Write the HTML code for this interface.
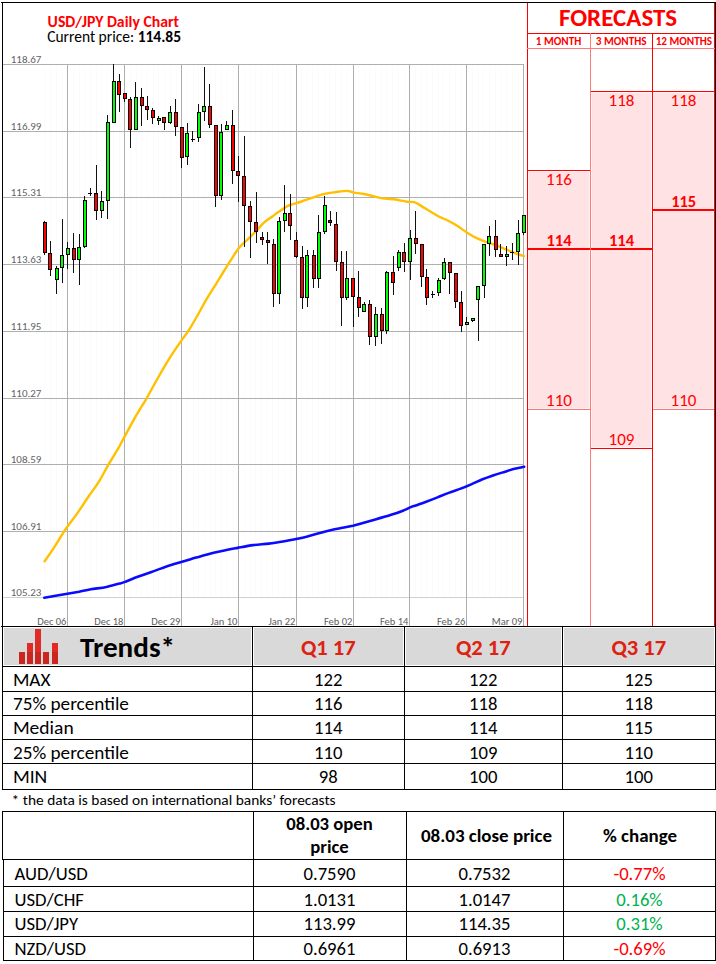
<!DOCTYPE html>
<html><head><meta charset="utf-8"><title>USD/JPY Daily Chart</title>
<style>
html,body{margin:0;padding:0;background:#fff;}
body{width:716px;height:964px;overflow:hidden;position:relative;font-family:Carlito, 'Liberation Sans', sans-serif;}
svg{position:absolute;left:0;top:0;display:block;}
</style></head><body>
<svg width="716" height="964" viewBox="0 0 716 964">
<rect x="0" y="0" width="716" height="964" fill="#fff"></rect>
<g shape-rendering="crispEdges">
<rect x="44" y="66" width="1" height="531" fill="#fbfbfb"></rect>
<rect x="50" y="66" width="1" height="531" fill="#fbfbfb"></rect>
<rect x="56" y="66" width="1" height="531" fill="#fbfbfb"></rect>
<rect x="62" y="66" width="1" height="531" fill="#fbfbfb"></rect>
<rect x="73" y="66" width="1" height="531" fill="#fbfbfb"></rect>
<rect x="79" y="66" width="1" height="531" fill="#fbfbfb"></rect>
<rect x="84" y="66" width="1" height="531" fill="#fbfbfb"></rect>
<rect x="90" y="66" width="1" height="531" fill="#fbfbfb"></rect>
<rect x="96" y="66" width="1" height="531" fill="#fbfbfb"></rect>
<rect x="101" y="66" width="1" height="531" fill="#fbfbfb"></rect>
<rect x="107" y="66" width="1" height="531" fill="#fbfbfb"></rect>
<rect x="113" y="66" width="1" height="531" fill="#fbfbfb"></rect>
<rect x="119" y="66" width="1" height="531" fill="#fbfbfb"></rect>
<rect x="130" y="66" width="1" height="531" fill="#fbfbfb"></rect>
<rect x="136" y="66" width="1" height="531" fill="#fbfbfb"></rect>
<rect x="141" y="66" width="1" height="531" fill="#fbfbfb"></rect>
<rect x="147" y="66" width="1" height="531" fill="#fbfbfb"></rect>
<rect x="153" y="66" width="1" height="531" fill="#fbfbfb"></rect>
<rect x="158" y="66" width="1" height="531" fill="#fbfbfb"></rect>
<rect x="164" y="66" width="1" height="531" fill="#fbfbfb"></rect>
<rect x="170" y="66" width="1" height="531" fill="#fbfbfb"></rect>
<rect x="176" y="66" width="1" height="531" fill="#fbfbfb"></rect>
<rect x="187" y="66" width="1" height="531" fill="#fbfbfb"></rect>
<rect x="193" y="66" width="1" height="531" fill="#fbfbfb"></rect>
<rect x="198" y="66" width="1" height="531" fill="#fbfbfb"></rect>
<rect x="204" y="66" width="1" height="531" fill="#fbfbfb"></rect>
<rect x="210" y="66" width="1" height="531" fill="#fbfbfb"></rect>
<rect x="215" y="66" width="1" height="531" fill="#fbfbfb"></rect>
<rect x="221" y="66" width="1" height="531" fill="#fbfbfb"></rect>
<rect x="227" y="66" width="1" height="531" fill="#fbfbfb"></rect>
<rect x="233" y="66" width="1" height="531" fill="#fbfbfb"></rect>
<rect x="244" y="66" width="1" height="531" fill="#fbfbfb"></rect>
<rect x="250" y="66" width="1" height="531" fill="#fbfbfb"></rect>
<rect x="255" y="66" width="1" height="531" fill="#fbfbfb"></rect>
<rect x="261" y="66" width="1" height="531" fill="#fbfbfb"></rect>
<rect x="267" y="66" width="1" height="531" fill="#fbfbfb"></rect>
<rect x="272" y="66" width="1" height="531" fill="#fbfbfb"></rect>
<rect x="278" y="66" width="1" height="531" fill="#fbfbfb"></rect>
<rect x="284" y="66" width="1" height="531" fill="#fbfbfb"></rect>
<rect x="290" y="66" width="1" height="531" fill="#fbfbfb"></rect>
<rect x="301" y="66" width="1" height="531" fill="#fbfbfb"></rect>
<rect x="307" y="66" width="1" height="531" fill="#fbfbfb"></rect>
<rect x="312" y="66" width="1" height="531" fill="#fbfbfb"></rect>
<rect x="318" y="66" width="1" height="531" fill="#fbfbfb"></rect>
<rect x="324" y="66" width="1" height="531" fill="#fbfbfb"></rect>
<rect x="329" y="66" width="1" height="531" fill="#fbfbfb"></rect>
<rect x="335" y="66" width="1" height="531" fill="#fbfbfb"></rect>
<rect x="341" y="66" width="1" height="531" fill="#fbfbfb"></rect>
<rect x="347" y="66" width="1" height="531" fill="#fbfbfb"></rect>
<rect x="358" y="66" width="1" height="531" fill="#fbfbfb"></rect>
<rect x="364" y="66" width="1" height="531" fill="#fbfbfb"></rect>
<rect x="369" y="66" width="1" height="531" fill="#fbfbfb"></rect>
<rect x="375" y="66" width="1" height="531" fill="#fbfbfb"></rect>
<rect x="381" y="66" width="1" height="531" fill="#fbfbfb"></rect>
<rect x="386" y="66" width="1" height="531" fill="#fbfbfb"></rect>
<rect x="392" y="66" width="1" height="531" fill="#fbfbfb"></rect>
<rect x="398" y="66" width="1" height="531" fill="#fbfbfb"></rect>
<rect x="404" y="66" width="1" height="531" fill="#fbfbfb"></rect>
<rect x="415" y="66" width="1" height="531" fill="#fbfbfb"></rect>
<rect x="421" y="66" width="1" height="531" fill="#fbfbfb"></rect>
<rect x="426" y="66" width="1" height="531" fill="#fbfbfb"></rect>
<rect x="432" y="66" width="1" height="531" fill="#fbfbfb"></rect>
<rect x="438" y="66" width="1" height="531" fill="#fbfbfb"></rect>
<rect x="443" y="66" width="1" height="531" fill="#fbfbfb"></rect>
<rect x="449" y="66" width="1" height="531" fill="#fbfbfb"></rect>
<rect x="455" y="66" width="1" height="531" fill="#fbfbfb"></rect>
<rect x="461" y="66" width="1" height="531" fill="#fbfbfb"></rect>
<rect x="472" y="66" width="1" height="531" fill="#fbfbfb"></rect>
<rect x="478" y="66" width="1" height="531" fill="#fbfbfb"></rect>
<rect x="483" y="66" width="1" height="531" fill="#fbfbfb"></rect>
<rect x="489" y="66" width="1" height="531" fill="#fbfbfb"></rect>
<rect x="495" y="66" width="1" height="531" fill="#fbfbfb"></rect>
<rect x="500" y="66" width="1" height="531" fill="#fbfbfb"></rect>
<rect x="506" y="66" width="1" height="531" fill="#fbfbfb"></rect>
<rect x="512" y="66" width="1" height="531" fill="#fbfbfb"></rect>
<rect x="518" y="66" width="1" height="531" fill="#fbfbfb"></rect>
<rect x="3" y="64" width="521" height="1" fill="#afafaf"></rect>
<rect x="3" y="131" width="521" height="1" fill="#afafaf"></rect>
<rect x="3" y="197" width="521" height="1" fill="#afafaf"></rect>
<rect x="3" y="264" width="521" height="1" fill="#afafaf"></rect>
<rect x="3" y="331" width="521" height="1" fill="#afafaf"></rect>
<rect x="3" y="398" width="521" height="1" fill="#afafaf"></rect>
<rect x="3" y="464" width="521" height="1" fill="#afafaf"></rect>
<rect x="3" y="531" width="521" height="1" fill="#afafaf"></rect>
<rect x="3" y="597" width="521" height="1" fill="#d0d0d0"></rect>
<rect x="67" y="64" width="1" height="562" fill="#aeaeae"></rect>
<rect x="124" y="64" width="1" height="562" fill="#aeaeae"></rect>
<rect x="181" y="64" width="1" height="562" fill="#aeaeae"></rect>
<rect x="238" y="64" width="1" height="562" fill="#aeaeae"></rect>
<rect x="296" y="64" width="1" height="562" fill="#aeaeae"></rect>
<rect x="353" y="64" width="1" height="562" fill="#aeaeae"></rect>
<rect x="409" y="64" width="1" height="562" fill="#aeaeae"></rect>
<rect x="466" y="64" width="1" height="562" fill="#aeaeae"></rect>
<rect x="523" y="64" width="1" height="562" fill="#aeaeae"></rect>
</g>
<g font-family="Carlito, 'Liberation Sans', sans-serif" font-size="11" fill="#636363" text-anchor="end">
<text x="41.4" y="62.8" textLength="30.66" lengthAdjust="spacingAndGlyphs">118.67</text>
<text x="41.4" y="129.8" textLength="30.66" lengthAdjust="spacingAndGlyphs">116.99</text>
<text x="41.4" y="195.8" textLength="30.66" lengthAdjust="spacingAndGlyphs">115.31</text>
<text x="41.4" y="262.8" textLength="30.66" lengthAdjust="spacingAndGlyphs">113.63</text>
<text x="41.4" y="329.8" textLength="30.66" lengthAdjust="spacingAndGlyphs">111.95</text>
<text x="41.4" y="396.8" textLength="30.66" lengthAdjust="spacingAndGlyphs">110.27</text>
<text x="41.4" y="462.8" textLength="30.66" lengthAdjust="spacingAndGlyphs">108.59</text>
<text x="41.4" y="529.8" textLength="30.66" lengthAdjust="spacingAndGlyphs">106.91</text>
<text x="41.4" y="595.8" textLength="30.66" lengthAdjust="spacingAndGlyphs">105.23</text>
</g>
<g font-family="Carlito, 'Liberation Sans', sans-serif" font-size="10.5" fill="#5e5e5e" text-anchor="end">
<text x="66.4" y="624.8" textLength="29.16" lengthAdjust="spacingAndGlyphs">Dec 06</text>
<text x="123.4" y="624.8" textLength="29.16" lengthAdjust="spacingAndGlyphs">Dec 18</text>
<text x="180.4" y="624.8" textLength="29.16" lengthAdjust="spacingAndGlyphs">Dec 29</text>
<text x="237.4" y="624.8" textLength="26.92" lengthAdjust="spacingAndGlyphs">Jan 10</text>
<text x="295.4" y="624.8" textLength="26.92" lengthAdjust="spacingAndGlyphs">Jan 22</text>
<text x="352.4" y="624.8" textLength="28.44" lengthAdjust="spacingAndGlyphs">Feb 02</text>
<text x="408.4" y="624.8" textLength="28.44" lengthAdjust="spacingAndGlyphs">Feb 14</text>
<text x="465.4" y="624.8" textLength="28.44" lengthAdjust="spacingAndGlyphs">Feb 26</text>
<text x="522.4" y="624.8" textLength="30.69" lengthAdjust="spacingAndGlyphs">Mar 09</text>
</g>
<path d="M44.6,561.2 C46.2,558.9 50.5,553.0 54.0,547.6 C57.5,542.2 61.9,534.5 65.9,528.7 C69.9,522.9 74.0,518.1 77.8,512.6 C81.6,507.1 85.5,500.9 89.0,495.8 C92.5,490.7 95.5,487.1 98.8,481.8 C102.1,476.6 105.3,469.9 108.6,464.3 C111.9,458.7 116.0,452.3 118.4,448.2 C120.8,444.1 120.2,444.6 123.0,439.5 C125.8,434.4 131.1,424.4 135.0,417.6 C138.9,410.8 142.5,405.3 146.3,398.8 C150.1,392.3 153.7,385.3 157.6,378.5 C161.5,371.7 165.6,364.6 169.6,358.2 C173.6,351.8 178.4,344.9 181.7,340.1 C185.0,335.3 186.2,334.4 189.2,329.6 C192.2,324.8 196.8,316.6 199.7,311.5 C202.6,306.4 204.1,303.2 206.7,298.9 C209.3,294.6 212.2,290.1 215.1,285.5 C218.0,280.9 221.2,275.5 224.0,271.0 C226.8,266.5 229.4,262.4 231.8,258.7 C234.2,255.0 236.4,251.3 238.5,248.6 C240.6,245.9 242.0,244.6 244.1,242.6 C246.2,240.6 248.6,238.5 250.8,236.3 C253.0,234.1 255.3,231.9 257.5,229.6 C259.7,227.3 261.8,224.5 264.2,222.4 C266.6,220.3 269.6,218.6 272.0,216.8 C274.4,215.0 276.5,213.3 278.7,211.8 C280.9,210.3 283.1,208.7 285.0,207.6 C286.9,206.5 287.2,206.0 290.0,205.0 C292.8,204.0 297.8,202.8 301.7,201.5 C305.6,200.2 309.7,198.6 313.5,197.3 C317.3,196.0 320.8,194.8 324.4,193.9 C328.0,193.1 331.4,192.7 335.2,192.2 C339.0,191.7 343.9,190.8 347.0,190.9 C350.1,191.0 350.6,192.1 353.7,192.6 C356.8,193.1 360.8,193.3 365.4,194.2 C370.0,195.1 376.6,197.2 381.3,198.1 C386.1,198.9 390.8,198.9 393.9,199.3 C397.0,199.7 397.8,200.0 400.0,200.4 C402.2,200.8 404.8,201.5 407.2,201.8 C409.6,202.1 411.9,201.5 414.3,202.2 C416.7,202.9 418.8,204.5 421.5,206.1 C424.2,207.7 427.4,209.7 430.4,211.5 C433.4,213.3 436.3,215.3 439.3,216.8 C442.3,218.3 445.3,219.2 448.3,220.7 C451.3,222.2 454.2,223.9 457.2,225.8 C460.2,227.7 463.1,230.1 466.1,232.0 C469.1,233.9 471.8,235.8 475.1,237.4 C478.4,239.0 482.2,240.5 485.8,241.8 C489.4,243.1 492.9,244.1 496.5,245.4 C500.1,246.8 504.0,248.6 507.3,249.9 C510.6,251.2 513.4,252.5 516.2,253.5 C519.0,254.5 522.6,255.7 523.9,256.1" fill="none" stroke="#ffc000" stroke-width="2.4" stroke-linecap="round" stroke-linejoin="round"></path>
<path d="M44.3,597.7 C46.2,597.4 51.8,596.4 55.6,595.7 C59.5,595.1 63.5,594.4 67.4,593.8 C71.3,593.1 75.2,592.5 79.1,591.8 C83.0,591.0 86.2,590.1 90.8,589.3 C95.4,588.5 101.6,587.9 106.5,586.9 C111.4,585.9 117.0,584.3 120.2,583.4 C123.5,582.5 123.1,582.6 126.0,581.5 C128.9,580.4 133.6,578.4 137.8,576.8 C142.1,575.2 146.9,573.5 151.5,571.9 C156.1,570.3 161.2,568.4 165.1,567.0 C169.0,565.6 170.8,565.1 175.0,563.8 C179.2,562.5 185.4,560.7 190.6,559.2 C195.8,557.7 201.1,556.1 206.3,554.7 C211.5,553.3 216.7,552.1 221.9,551.0 C227.1,549.9 232.4,548.9 237.6,547.9 C242.8,546.9 248.0,545.8 253.2,545.1 C258.4,544.4 263.7,544.2 268.9,543.6 C274.1,543.0 279.3,542.1 284.5,541.2 C289.7,540.3 295.9,539.2 300.1,538.3 C304.4,537.4 306.6,536.7 310.0,535.8 C313.4,534.9 317.2,533.7 320.8,532.7 C324.4,531.7 327.9,530.8 331.5,530.0 C335.1,529.2 338.7,528.5 342.3,527.8 C345.9,527.1 349.4,526.6 353.0,525.8 C356.6,524.9 360.2,523.7 363.8,522.7 C367.4,521.7 370.9,520.7 374.5,519.7 C378.1,518.7 382.0,517.6 385.3,516.6 C388.6,515.6 391.4,514.8 394.5,513.8 C397.6,512.8 400.9,511.5 403.7,510.4 C406.5,509.2 409.5,507.7 411.4,506.9 C413.3,506.1 412.5,506.6 415.0,505.8 C417.5,505.0 422.4,503.2 426.2,501.8 C429.9,500.4 433.8,498.9 437.5,497.4 C441.2,495.9 444.9,494.3 448.7,492.9 C452.4,491.5 456.2,490.3 460.0,488.9 C463.8,487.5 467.4,486.0 471.2,484.4 C474.9,482.8 478.8,480.8 482.5,479.3 C486.2,477.8 489.9,476.6 493.7,475.3 C497.4,474.0 501.5,472.8 505.0,471.7 C508.5,470.6 511.4,469.6 514.6,468.8 C517.8,468.0 522.6,467.1 524.2,466.7" fill="none" stroke="#0a0aff" stroke-width="2.6" stroke-linecap="round" stroke-linejoin="round"></path>
<rect x="44" y="221" width="1" height="34" fill="#111"></rect>
<rect x="50" y="241" width="1" height="35" fill="#111"></rect>
<rect x="56" y="266" width="1" height="28" fill="#111"></rect>
<rect x="62" y="219" width="1" height="64" fill="#111"></rect>
<rect x="67" y="242" width="1" height="27" fill="#111"></rect>
<rect x="73" y="233" width="1" height="40" fill="#111"></rect>
<rect x="79" y="234" width="1" height="51" fill="#111"></rect>
<rect x="84" y="196" width="1" height="52" fill="#111"></rect>
<rect x="90" y="188" width="1" height="8" fill="#111"></rect>
<rect x="96" y="165" width="1" height="55" fill="#111"></rect>
<rect x="101" y="191" width="1" height="27" fill="#111"></rect>
<rect x="107" y="115" width="1" height="104" fill="#111"></rect>
<rect x="113" y="64" width="1" height="59" fill="#111"></rect>
<rect x="119" y="74" width="1" height="38" fill="#111"></rect>
<rect x="124" y="93" width="1" height="9" fill="#111"></rect>
<rect x="130" y="97" width="1" height="51" fill="#111"></rect>
<rect x="135" y="82" width="1" height="48" fill="#111"></rect>
<rect x="141" y="88" width="1" height="38" fill="#111"></rect>
<rect x="147" y="96" width="1" height="24" fill="#111"></rect>
<rect x="152" y="108" width="1" height="16" fill="#111"></rect>
<rect x="158" y="116" width="1" height="9" fill="#111"></rect>
<rect x="164" y="117" width="1" height="13" fill="#111"></rect>
<rect x="170" y="106" width="1" height="18" fill="#111"></rect>
<rect x="175" y="99" width="1" height="37" fill="#111"></rect>
<rect x="181" y="127" width="1" height="41" fill="#111"></rect>
<rect x="187" y="123" width="1" height="42" fill="#111"></rect>
<rect x="192" y="131" width="1" height="11" fill="#111"></rect>
<rect x="198" y="104" width="1" height="38" fill="#111"></rect>
<rect x="204" y="67" width="1" height="54" fill="#111"></rect>
<rect x="209" y="84" width="1" height="44" fill="#111"></rect>
<rect x="215" y="125" width="1" height="82" fill="#111"></rect>
<rect x="221" y="124" width="1" height="76" fill="#111"></rect>
<rect x="226" y="121" width="1" height="9" fill="#111"></rect>
<rect x="232" y="110" width="1" height="74" fill="#111"></rect>
<rect x="238" y="156" width="1" height="46" fill="#111"></rect>
<rect x="244" y="136" width="1" height="111" fill="#111"></rect>
<rect x="250" y="201" width="1" height="57" fill="#111"></rect>
<rect x="256" y="192" width="1" height="51" fill="#111"></rect>
<rect x="262" y="232" width="1" height="13" fill="#111"></rect>
<rect x="267" y="232" width="1" height="32" fill="#111"></rect>
<rect x="273" y="239" width="1" height="68" fill="#111"></rect>
<rect x="279" y="217" width="1" height="87" fill="#111"></rect>
<rect x="284" y="185" width="1" height="47" fill="#111"></rect>
<rect x="290" y="194" width="1" height="46" fill="#111"></rect>
<rect x="296" y="232" width="1" height="26" fill="#111"></rect>
<rect x="302" y="246" width="1" height="63" fill="#111"></rect>
<rect x="307" y="250" width="1" height="57" fill="#111"></rect>
<rect x="313" y="250" width="1" height="38" fill="#111"></rect>
<rect x="318" y="215" width="1" height="73" fill="#111"></rect>
<rect x="324" y="196" width="1" height="38" fill="#111"></rect>
<rect x="330" y="211" width="1" height="15" fill="#111"></rect>
<rect x="336" y="212" width="1" height="59" fill="#111"></rect>
<rect x="341" y="251" width="1" height="75" fill="#111"></rect>
<rect x="346" y="251" width="1" height="49" fill="#111"></rect>
<rect x="353" y="278" width="1" height="49" fill="#111"></rect>
<rect x="358" y="271" width="1" height="46" fill="#111"></rect>
<rect x="364" y="302" width="1" height="10" fill="#111"></rect>
<rect x="369" y="300" width="1" height="45" fill="#111"></rect>
<rect x="375" y="307" width="1" height="39" fill="#111"></rect>
<rect x="381" y="308" width="1" height="36" fill="#111"></rect>
<rect x="386" y="271" width="1" height="63" fill="#111"></rect>
<rect x="393" y="256" width="1" height="39" fill="#111"></rect>
<rect x="398" y="250" width="1" height="21" fill="#111"></rect>
<rect x="404" y="243" width="1" height="29" fill="#111"></rect>
<rect x="410" y="230" width="1" height="50" fill="#111"></rect>
<rect x="415" y="211" width="1" height="43" fill="#111"></rect>
<rect x="421" y="244" width="1" height="43" fill="#111"></rect>
<rect x="426" y="269" width="1" height="36" fill="#111"></rect>
<rect x="432" y="291" width="1" height="7" fill="#111"></rect>
<rect x="438" y="278" width="1" height="18" fill="#111"></rect>
<rect x="444" y="258" width="1" height="22" fill="#111"></rect>
<rect x="449" y="262" width="1" height="32" fill="#111"></rect>
<rect x="455" y="273" width="1" height="35" fill="#111"></rect>
<rect x="461" y="291" width="1" height="41" fill="#111"></rect>
<rect x="466" y="317" width="1" height="7" fill="#111"></rect>
<rect x="472" y="318" width="1" height="4" fill="#111"></rect>
<rect x="478" y="286" width="1" height="55" fill="#111"></rect>
<rect x="484" y="244" width="1" height="54" fill="#111"></rect>
<rect x="489" y="226" width="1" height="30" fill="#111"></rect>
<rect x="495" y="220" width="1" height="37" fill="#111"></rect>
<rect x="500" y="244" width="1" height="13" fill="#111"></rect>
<rect x="506" y="246" width="1" height="20" fill="#111"></rect>
<rect x="512" y="243" width="1" height="17" fill="#111"></rect>
<rect x="518" y="220" width="1" height="45" fill="#111"></rect>
<rect x="523" y="215" width="1" height="20" fill="#111"></rect>
<g shape-rendering="crispEdges">
<rect x="43" y="222" width="4" height="31" fill="#000"></rect>
<rect x="44" y="223" width="2" height="29" fill="#ff0000"></rect>
<rect x="48" y="253" width="4" height="17" fill="#000"></rect>
<rect x="49" y="254" width="2" height="15" fill="#ff0000"></rect>
<rect x="55" y="268" width="4" height="12" fill="#000"></rect>
<rect x="56" y="269" width="2" height="10" fill="#00ff00"></rect>
<rect x="60" y="255" width="4" height="13" fill="#000"></rect>
<rect x="61" y="256" width="2" height="11" fill="#00ff00"></rect>
<rect x="66" y="248" width="4" height="7" fill="#000"></rect>
<rect x="67" y="249" width="2" height="5" fill="#00ff00"></rect>
<rect x="72" y="248" width="4" height="12" fill="#000"></rect>
<rect x="73" y="249" width="2" height="10" fill="#ff0000"></rect>
<rect x="77" y="247" width="4" height="13" fill="#000"></rect>
<rect x="78" y="248" width="2" height="11" fill="#00ff00"></rect>
<rect x="83" y="200" width="4" height="47" fill="#000"></rect>
<rect x="84" y="201" width="2" height="45" fill="#00ff00"></rect>
<rect x="88" y="193" width="4" height="1" fill="#000"></rect>
<rect x="94" y="193" width="4" height="18" fill="#000"></rect>
<rect x="95" y="194" width="2" height="16" fill="#ff0000"></rect>
<rect x="100" y="201" width="4" height="10" fill="#000"></rect>
<rect x="101" y="202" width="2" height="8" fill="#00ff00"></rect>
<rect x="106" y="122" width="4" height="79" fill="#000"></rect>
<rect x="107" y="123" width="2" height="77" fill="#00ff00"></rect>
<rect x="112" y="81" width="4" height="42" fill="#000"></rect>
<rect x="113" y="82" width="2" height="40" fill="#00ff00"></rect>
<rect x="117" y="81" width="4" height="14" fill="#000"></rect>
<rect x="118" y="82" width="2" height="12" fill="#ff0000"></rect>
<rect x="123" y="93" width="4" height="6" fill="#000"></rect>
<rect x="124" y="94" width="2" height="4" fill="#ff0000"></rect>
<rect x="128" y="99" width="4" height="31" fill="#000"></rect>
<rect x="129" y="100" width="2" height="29" fill="#ff0000"></rect>
<rect x="134" y="97" width="4" height="33" fill="#000"></rect>
<rect x="135" y="98" width="2" height="31" fill="#00ff00"></rect>
<rect x="140" y="97" width="4" height="9" fill="#000"></rect>
<rect x="141" y="98" width="2" height="7" fill="#ff0000"></rect>
<rect x="145" y="106" width="4" height="4" fill="#000"></rect>
<rect x="146" y="107" width="2" height="2" fill="#ff0000"></rect>
<rect x="151" y="110" width="4" height="8" fill="#000"></rect>
<rect x="152" y="111" width="2" height="6" fill="#ff0000"></rect>
<rect x="157" y="118" width="4" height="3" fill="#000"></rect>
<rect x="158" y="119" width="2" height="1" fill="#00ff00"></rect>
<rect x="162" y="117" width="4" height="6" fill="#000"></rect>
<rect x="163" y="118" width="2" height="4" fill="#ff0000"></rect>
<rect x="168" y="112" width="4" height="11" fill="#000"></rect>
<rect x="169" y="113" width="2" height="9" fill="#00ff00"></rect>
<rect x="174" y="112" width="4" height="15" fill="#000"></rect>
<rect x="175" y="113" width="2" height="13" fill="#ff0000"></rect>
<rect x="180" y="127" width="4" height="31" fill="#000"></rect>
<rect x="181" y="128" width="2" height="29" fill="#ff0000"></rect>
<rect x="185" y="133" width="4" height="24" fill="#000"></rect>
<rect x="186" y="134" width="2" height="22" fill="#00ff00"></rect>
<rect x="191" y="139" width="4" height="1" fill="#000"></rect>
<rect x="197" y="112" width="4" height="26" fill="#000"></rect>
<rect x="198" y="113" width="2" height="24" fill="#00ff00"></rect>
<rect x="202" y="106" width="4" height="6" fill="#000"></rect>
<rect x="203" y="107" width="2" height="4" fill="#00ff00"></rect>
<rect x="208" y="106" width="4" height="19" fill="#000"></rect>
<rect x="209" y="107" width="2" height="17" fill="#ff0000"></rect>
<rect x="214" y="125" width="4" height="71" fill="#000"></rect>
<rect x="215" y="126" width="2" height="69" fill="#ff0000"></rect>
<rect x="219" y="132" width="4" height="64" fill="#000"></rect>
<rect x="220" y="133" width="2" height="62" fill="#00ff00"></rect>
<rect x="225" y="125" width="4" height="5" fill="#000"></rect>
<rect x="226" y="126" width="2" height="3" fill="#00ff00"></rect>
<rect x="231" y="125" width="4" height="46" fill="#000"></rect>
<rect x="232" y="126" width="2" height="44" fill="#ff0000"></rect>
<rect x="236" y="171" width="4" height="5" fill="#000"></rect>
<rect x="237" y="172" width="2" height="3" fill="#ff0000"></rect>
<rect x="242" y="176" width="4" height="30" fill="#000"></rect>
<rect x="243" y="177" width="2" height="28" fill="#ff0000"></rect>
<rect x="248" y="206" width="4" height="16" fill="#000"></rect>
<rect x="249" y="207" width="2" height="14" fill="#ff0000"></rect>
<rect x="254" y="222" width="4" height="10" fill="#000"></rect>
<rect x="255" y="223" width="2" height="8" fill="#ff0000"></rect>
<rect x="260" y="237" width="4" height="3" fill="#000"></rect>
<rect x="261" y="238" width="2" height="1" fill="#ff0000"></rect>
<rect x="266" y="240" width="4" height="3" fill="#000"></rect>
<rect x="267" y="241" width="2" height="1" fill="#ff0000"></rect>
<rect x="272" y="244" width="4" height="50" fill="#000"></rect>
<rect x="273" y="245" width="2" height="48" fill="#ff0000"></rect>
<rect x="277" y="221" width="4" height="73" fill="#000"></rect>
<rect x="278" y="222" width="2" height="71" fill="#00ff00"></rect>
<rect x="283" y="213" width="4" height="8" fill="#000"></rect>
<rect x="284" y="214" width="2" height="6" fill="#00ff00"></rect>
<rect x="288" y="213" width="4" height="13" fill="#000"></rect>
<rect x="289" y="214" width="2" height="11" fill="#ff0000"></rect>
<rect x="294" y="240" width="4" height="17" fill="#000"></rect>
<rect x="295" y="241" width="2" height="15" fill="#ff0000"></rect>
<rect x="300" y="257" width="4" height="41" fill="#000"></rect>
<rect x="301" y="258" width="2" height="39" fill="#ff0000"></rect>
<rect x="305" y="255" width="4" height="43" fill="#000"></rect>
<rect x="306" y="256" width="2" height="41" fill="#00ff00"></rect>
<rect x="312" y="255" width="4" height="24" fill="#000"></rect>
<rect x="313" y="256" width="2" height="22" fill="#ff0000"></rect>
<rect x="317" y="232" width="4" height="47" fill="#000"></rect>
<rect x="318" y="233" width="2" height="45" fill="#00ff00"></rect>
<rect x="323" y="205" width="4" height="27" fill="#000"></rect>
<rect x="324" y="206" width="2" height="25" fill="#00ff00"></rect>
<rect x="328" y="220" width="4" height="3" fill="#000"></rect>
<rect x="329" y="221" width="2" height="1" fill="#ff0000"></rect>
<rect x="334" y="224" width="4" height="38" fill="#000"></rect>
<rect x="335" y="225" width="2" height="36" fill="#ff0000"></rect>
<rect x="340" y="262" width="4" height="36" fill="#000"></rect>
<rect x="341" y="263" width="2" height="34" fill="#ff0000"></rect>
<rect x="345" y="278" width="4" height="20" fill="#000"></rect>
<rect x="346" y="279" width="2" height="18" fill="#00ff00"></rect>
<rect x="351" y="278" width="4" height="19" fill="#000"></rect>
<rect x="352" y="279" width="2" height="17" fill="#ff0000"></rect>
<rect x="357" y="297" width="4" height="11" fill="#000"></rect>
<rect x="358" y="298" width="2" height="9" fill="#ff0000"></rect>
<rect x="362" y="304" width="4" height="8" fill="#000"></rect>
<rect x="363" y="305" width="2" height="6" fill="#00ff00"></rect>
<rect x="368" y="304" width="4" height="33" fill="#000"></rect>
<rect x="369" y="305" width="2" height="31" fill="#ff0000"></rect>
<rect x="374" y="314" width="4" height="23" fill="#000"></rect>
<rect x="375" y="315" width="2" height="21" fill="#00ff00"></rect>
<rect x="380" y="314" width="4" height="17" fill="#000"></rect>
<rect x="381" y="315" width="2" height="15" fill="#ff0000"></rect>
<rect x="385" y="272" width="4" height="59" fill="#000"></rect>
<rect x="386" y="273" width="2" height="57" fill="#00ff00"></rect>
<rect x="391" y="272" width="4" height="11" fill="#000"></rect>
<rect x="392" y="273" width="2" height="9" fill="#ff0000"></rect>
<rect x="397" y="252" width="4" height="16" fill="#000"></rect>
<rect x="398" y="253" width="2" height="14" fill="#00ff00"></rect>
<rect x="402" y="252" width="4" height="10" fill="#000"></rect>
<rect x="403" y="253" width="2" height="8" fill="#ff0000"></rect>
<rect x="408" y="238" width="4" height="24" fill="#000"></rect>
<rect x="409" y="239" width="2" height="22" fill="#00ff00"></rect>
<rect x="414" y="238" width="4" height="6" fill="#000"></rect>
<rect x="415" y="239" width="2" height="4" fill="#ff0000"></rect>
<rect x="420" y="244" width="4" height="33" fill="#000"></rect>
<rect x="421" y="245" width="2" height="31" fill="#ff0000"></rect>
<rect x="425" y="277" width="4" height="21" fill="#000"></rect>
<rect x="426" y="278" width="2" height="19" fill="#ff0000"></rect>
<rect x="431" y="294" width="4" height="1" fill="#000"></rect>
<rect x="437" y="280" width="4" height="13" fill="#000"></rect>
<rect x="438" y="281" width="2" height="11" fill="#00ff00"></rect>
<rect x="442" y="262" width="4" height="17" fill="#000"></rect>
<rect x="443" y="263" width="2" height="15" fill="#00ff00"></rect>
<rect x="448" y="262" width="4" height="11" fill="#000"></rect>
<rect x="449" y="263" width="2" height="9" fill="#ff0000"></rect>
<rect x="454" y="273" width="4" height="29" fill="#000"></rect>
<rect x="455" y="274" width="2" height="27" fill="#ff0000"></rect>
<rect x="459" y="302" width="4" height="24" fill="#000"></rect>
<rect x="460" y="303" width="2" height="22" fill="#ff0000"></rect>
<rect x="465" y="322" width="4" height="3" fill="#000"></rect>
<rect x="466" y="323" width="2" height="1" fill="#00ff00"></rect>
<rect x="471" y="318" width="4" height="3" fill="#000"></rect>
<rect x="472" y="319" width="2" height="1" fill="#00ff00"></rect>
<rect x="476" y="286" width="4" height="14" fill="#000"></rect>
<rect x="477" y="287" width="2" height="12" fill="#00ff00"></rect>
<rect x="482" y="244" width="4" height="42" fill="#000"></rect>
<rect x="483" y="245" width="2" height="40" fill="#00ff00"></rect>
<rect x="487" y="236" width="4" height="8" fill="#000"></rect>
<rect x="488" y="237" width="2" height="6" fill="#00ff00"></rect>
<rect x="494" y="236" width="4" height="14" fill="#000"></rect>
<rect x="495" y="237" width="2" height="12" fill="#ff0000"></rect>
<rect x="499" y="254" width="4" height="3" fill="#000"></rect>
<rect x="500" y="255" width="2" height="1" fill="#ff0000"></rect>
<rect x="505" y="254" width="4" height="3" fill="#000"></rect>
<rect x="506" y="255" width="2" height="1" fill="#00ff00"></rect>
<rect x="510" y="252" width="4" height="1" fill="#000"></rect>
<rect x="516" y="233" width="4" height="19" fill="#000"></rect>
<rect x="517" y="234" width="2" height="17" fill="#00ff00"></rect>
<rect x="522" y="215" width="4" height="18" fill="#000"></rect>
<rect x="523" y="216" width="2" height="16" fill="#00ff00"></rect>
</g>
<g shape-rendering="crispEdges">
<rect x="528" y="171" width="62" height="238" fill="#fff3f3"></rect>
<rect x="529" y="172" width="60" height="236" fill="#ffe2e3"></rect>
<rect x="527" y="170" width="63" height="1" fill="#ff0000"></rect>
<rect x="527" y="409" width="63" height="1" fill="#ff7575"></rect>
<rect x="591" y="92" width="61" height="356" fill="#fff3f3"></rect>
<rect x="592" y="93" width="59" height="354" fill="#ffe2e3"></rect>
<rect x="590" y="91" width="62" height="1" fill="#ff0000"></rect>
<rect x="590" y="448" width="62" height="1" fill="#ff0000"></rect>
<rect x="653" y="92" width="61" height="317" fill="#fff3f3"></rect>
<rect x="654" y="93" width="59" height="315" fill="#ffe2e3"></rect>
<rect x="652" y="91" width="62" height="1" fill="#ff0000"></rect>
<rect x="652" y="409" width="62" height="1" fill="#ff7575"></rect>
<rect x="527" y="2" width="1" height="624" fill="#ff0000"></rect>
<rect x="714" y="2" width="1" height="624" fill="#ff0000"></rect>
<rect x="527" y="33" width="188" height="1" fill="#ff0000"></rect>
<rect x="527" y="48" width="188" height="1" fill="#ff7a7a"></rect>
<rect x="590" y="33" width="1" height="593" fill="#ff7a7a"></rect>
<rect x="652" y="33" width="1" height="593" fill="#ff0000"></rect>
<rect x="528" y="248" width="62" height="2" fill="#ff0000"></rect>
<rect x="591" y="248" width="61" height="2" fill="#ff0000"></rect>
<rect x="653" y="209" width="61" height="2" fill="#ff0000"></rect>
</g>
<text x="618" y="26.2" font-family="Carlito, 'Liberation Sans', sans-serif" font-size="25" font-weight="bold" fill="#ff0000" text-anchor="middle" textLength="118.14" lengthAdjust="spacingAndGlyphs">FORECASTS</text>
<g font-family="Carlito, 'Liberation Sans', sans-serif" font-size="11.2" font-weight="bold" fill="#ff0000" text-anchor="middle">
<text x="558.5" y="44.8" textLength="45.52" lengthAdjust="spacingAndGlyphs">1 MONTH</text><text x="621.2" y="44.8" textLength="50.81" lengthAdjust="spacingAndGlyphs">3 MONTHS</text><text x="683.9" y="44.8" textLength="56.47" lengthAdjust="spacingAndGlyphs">12 MONTHS</text>
</g>
<g font-family="Carlito, 'Liberation Sans', sans-serif" font-size="17" fill="#ff0000" text-anchor="middle">
<text x="559" y="184.9" textLength="25.86" lengthAdjust="spacingAndGlyphs">116</text>
<text x="621.5" y="106" textLength="25.86" lengthAdjust="spacingAndGlyphs">118</text>
<text x="683.5" y="106" textLength="25.86" lengthAdjust="spacingAndGlyphs">118</text>
<text x="559" y="406.4" textLength="25.86" lengthAdjust="spacingAndGlyphs">110</text>
<text x="621.5" y="445.4" textLength="25.86" lengthAdjust="spacingAndGlyphs">109</text>
<text x="683.5" y="406.4" textLength="25.86" lengthAdjust="spacingAndGlyphs">110</text>
</g>
<g font-family="Carlito, 'Liberation Sans', sans-serif" font-size="16.5" font-weight="bold" fill="#ff0000" text-anchor="middle">
<text x="559" y="246" textLength="25.09" lengthAdjust="spacingAndGlyphs">114</text>
<text x="621.5" y="246" textLength="25.09" lengthAdjust="spacingAndGlyphs">114</text>
<text x="683.7" y="207" textLength="25.09" lengthAdjust="spacingAndGlyphs">115</text>
</g>
<text x="47.6" y="26.5" font-family="Carlito, 'Liberation Sans', sans-serif" font-size="15" font-weight="bold" fill="#ff0000" textLength="131.5" lengthAdjust="spacingAndGlyphs">USD/JPY Daily Chart</text>
<text x="47.2" y="42.2" font-family="Carlito, 'Liberation Sans', sans-serif" font-size="15.5" fill="#000" textLength="133.88" lengthAdjust="spacingAndGlyphs">Current price: <tspan font-weight="bold">114.85</tspan></text>
<g shape-rendering="crispEdges">
<rect x="1" y="2" width="715" height="1" fill="#000"></rect>
<rect x="2" y="2" width="1" height="624" fill="#000"></rect>
<rect x="715" y="2" width="1" height="624" fill="#000"></rect>
</g>
<g shape-rendering="crispEdges">
<rect x="4" y="628" width="247" height="37" fill="#d9d9d9"></rect>
<rect x="254" y="628" width="149" height="37" fill="#d9d9d9"></rect>
<rect x="406" y="628" width="155" height="37" fill="#d9d9d9"></rect>
<rect x="564" y="628" width="150" height="37" fill="#d9d9d9"></rect>
<rect x="1" y="626" width="715" height="1" fill="#000"></rect>
<rect x="2" y="666" width="714" height="1" fill="#000"></rect>
<rect x="2" y="691" width="714" height="1" fill="#000"></rect>
<rect x="2" y="715" width="714" height="1" fill="#000"></rect>
<rect x="2" y="739" width="714" height="1" fill="#000"></rect>
<rect x="2" y="763" width="714" height="1" fill="#000"></rect>
<rect x="2" y="789" width="714" height="1" fill="#000"></rect>
<rect x="2" y="626" width="1" height="164" fill="#000"></rect>
<rect x="252" y="626" width="1" height="164" fill="#000"></rect>
<rect x="404" y="626" width="1" height="164" fill="#000"></rect>
<rect x="562" y="626" width="1" height="164" fill="#000"></rect>
<rect x="715" y="626" width="1" height="164" fill="#000"></rect>
<rect x="19" y="652" width="6" height="12" fill="#df2a25"></rect>
<rect x="19" y="652" width="6" height="12" fill="#c42420" opacity="0.75"></rect>
<rect x="27" y="643" width="6" height="21" fill="#df2a25"></rect>
<rect x="27" y="652" width="6" height="12" fill="#c42420" opacity="0.75"></rect>
<rect x="35" y="629" width="6" height="35" fill="#df2a25"></rect>
<rect x="35" y="652" width="6" height="12" fill="#c42420" opacity="0.75"></rect>
<rect x="43" y="652" width="6" height="12" fill="#df2a25"></rect>
<rect x="43" y="652" width="6" height="12" fill="#c42420" opacity="0.75"></rect>
<rect x="52" y="643" width="6" height="21" fill="#df2a25"></rect>
<rect x="52" y="652" width="6" height="12" fill="#c42420" opacity="0.75"></rect>
<rect x="2" y="811" width="714" height="1" fill="#000"></rect>
<rect x="2" y="859" width="714" height="1" fill="#000"></rect>
<rect x="3" y="886" width="713" height="1" fill="#000"></rect>
<rect x="3" y="911" width="713" height="1" fill="#000"></rect>
<rect x="3" y="936" width="713" height="1" fill="#000"></rect>
<rect x="3" y="960" width="713" height="1" fill="#000"></rect>
<rect x="2" y="811" width="1" height="49" fill="#000"></rect>
<rect x="3" y="859" width="1" height="102" fill="#000"></rect>
<rect x="253" y="811" width="1" height="150" fill="#000"></rect>
<rect x="406" y="811" width="1" height="150" fill="#000"></rect>
<rect x="563" y="811" width="1" height="150" fill="#000"></rect>
<rect x="715" y="811" width="1" height="150" fill="#000"></rect>
</g>
<text x="80" y="657.4" font-family="Carlito, 'Liberation Sans', sans-serif" font-size="28" font-weight="bold" fill="#000" textLength="95" lengthAdjust="spacingAndGlyphs">Trends*</text>
<g font-family="Carlito, 'Liberation Sans', sans-serif" font-size="22.5" font-weight="bold" fill="#dd2211" text-anchor="middle">
<text x="328.3" y="655.3" textLength="54.73" lengthAdjust="spacingAndGlyphs">Q1 17</text><text x="483.3" y="655.3" textLength="54.73" lengthAdjust="spacingAndGlyphs">Q2 17</text><text x="638.8" y="655.3" textLength="54.73" lengthAdjust="spacingAndGlyphs">Q3 17</text>
</g>
<g font-family="Carlito, 'Liberation Sans', sans-serif" font-size="18.67" fill="#000">
<text x="12.9" y="685.9" textLength="37.6" lengthAdjust="spacingAndGlyphs">MAX</text>
<text x="328.3" y="685.9" text-anchor="middle" textLength="28.38" lengthAdjust="spacingAndGlyphs">122</text>
<text x="483.3" y="685.9" text-anchor="middle" textLength="28.38" lengthAdjust="spacingAndGlyphs">122</text>
<text x="638.8" y="685.9" text-anchor="middle" textLength="28.38" lengthAdjust="spacingAndGlyphs">125</text>
<text x="12.9" y="710.0" textLength="116" lengthAdjust="spacingAndGlyphs">75% percentile</text>
<text x="328.3" y="710.0" text-anchor="middle" textLength="28.38" lengthAdjust="spacingAndGlyphs">116</text>
<text x="483.3" y="710.0" text-anchor="middle" textLength="28.38" lengthAdjust="spacingAndGlyphs">118</text>
<text x="638.8" y="710.0" text-anchor="middle" textLength="28.38" lengthAdjust="spacingAndGlyphs">118</text>
<text x="12.9" y="733.9" textLength="60.8" lengthAdjust="spacingAndGlyphs">Median</text>
<text x="328.3" y="733.9" text-anchor="middle" textLength="28.38" lengthAdjust="spacingAndGlyphs">114</text>
<text x="483.3" y="733.9" text-anchor="middle" textLength="28.38" lengthAdjust="spacingAndGlyphs">114</text>
<text x="638.8" y="733.9" text-anchor="middle" textLength="28.38" lengthAdjust="spacingAndGlyphs">115</text>
<text x="12.9" y="758.6" textLength="116" lengthAdjust="spacingAndGlyphs">25% percentile</text>
<text x="328.3" y="758.6" text-anchor="middle" textLength="28.38" lengthAdjust="spacingAndGlyphs">110</text>
<text x="483.3" y="758.6" text-anchor="middle" textLength="28.38" lengthAdjust="spacingAndGlyphs">109</text>
<text x="638.8" y="758.6" text-anchor="middle" textLength="28.38" lengthAdjust="spacingAndGlyphs">110</text>
<text x="12.9" y="783.0" textLength="34.4" lengthAdjust="spacingAndGlyphs">MIN</text>
<text x="328.3" y="783.0" text-anchor="middle" textLength="18.92" lengthAdjust="spacingAndGlyphs">98</text>
<text x="483.3" y="783.0" text-anchor="middle" textLength="28.38" lengthAdjust="spacingAndGlyphs">100</text>
<text x="638.8" y="783.0" text-anchor="middle" textLength="28.38" lengthAdjust="spacingAndGlyphs">100</text>
</g>
<text x="11.6" y="804.6" font-family="Carlito, 'Liberation Sans', sans-serif" font-size="14.67" fill="#000" textLength="324" lengthAdjust="spacingAndGlyphs">* the data is based on international banks’ forecasts</text>
<g font-family="Carlito, 'Liberation Sans', sans-serif" font-size="18.67" font-weight="bold" fill="#000" text-anchor="middle">
<text x="329.5" y="829.8" textLength="86.47" lengthAdjust="spacingAndGlyphs">08.03 open</text><text x="329.5" y="852.9" textLength="38.44" lengthAdjust="spacingAndGlyphs">price</text>
<text x="486.5" y="842.2" textLength="131" lengthAdjust="spacingAndGlyphs">08.03 close price</text><text x="640" y="842.2" textLength="74" lengthAdjust="spacingAndGlyphs">% change</text>
</g>
<g font-family="Carlito, 'Liberation Sans', sans-serif" font-size="18.67" fill="#000">
<text x="14.5" y="879.8" textLength="73.19" lengthAdjust="spacingAndGlyphs">AUD/USD</text>
<text x="329.5" y="879.8" text-anchor="middle" textLength="52.00" lengthAdjust="spacingAndGlyphs">0.7590</text>
<text x="484.5" y="879.8" text-anchor="middle" textLength="52.00" lengthAdjust="spacingAndGlyphs">0.7532</text>
<text x="639.5" y="879.8" text-anchor="middle" fill="#ff0000" textLength="52.13" lengthAdjust="spacingAndGlyphs">-0.77%</text>
<text x="14.5" y="906" textLength="69.38" lengthAdjust="spacingAndGlyphs">USD/CHF</text>
<text x="329.5" y="906" text-anchor="middle" textLength="52.00" lengthAdjust="spacingAndGlyphs">1.0131</text>
<text x="484.5" y="906" text-anchor="middle" textLength="52.00" lengthAdjust="spacingAndGlyphs">1.0147</text>
<text x="639.5" y="906" text-anchor="middle" fill="#00b050" textLength="46.42" lengthAdjust="spacingAndGlyphs">0.16%</text>
<text x="14.5" y="930" textLength="63.47" lengthAdjust="spacingAndGlyphs">USD/JPY</text>
<text x="329.5" y="930" text-anchor="middle" textLength="52.00" lengthAdjust="spacingAndGlyphs">113.99</text>
<text x="484.5" y="930" text-anchor="middle" textLength="52.00" lengthAdjust="spacingAndGlyphs">114.35</text>
<text x="639.5" y="930" text-anchor="middle" fill="#00b050" textLength="46.42" lengthAdjust="spacingAndGlyphs">0.31%</text>
<text x="14.5" y="954.5" textLength="71.48" lengthAdjust="spacingAndGlyphs">NZD/USD</text>
<text x="329.5" y="954.5" text-anchor="middle" textLength="52.00" lengthAdjust="spacingAndGlyphs">0.6961</text>
<text x="484.5" y="954.5" text-anchor="middle" textLength="52.00" lengthAdjust="spacingAndGlyphs">0.6913</text>
<text x="639.5" y="954.5" text-anchor="middle" fill="#ff0000" textLength="52.13" lengthAdjust="spacingAndGlyphs">-0.69%</text>
</g>
</svg>

</body></html>
